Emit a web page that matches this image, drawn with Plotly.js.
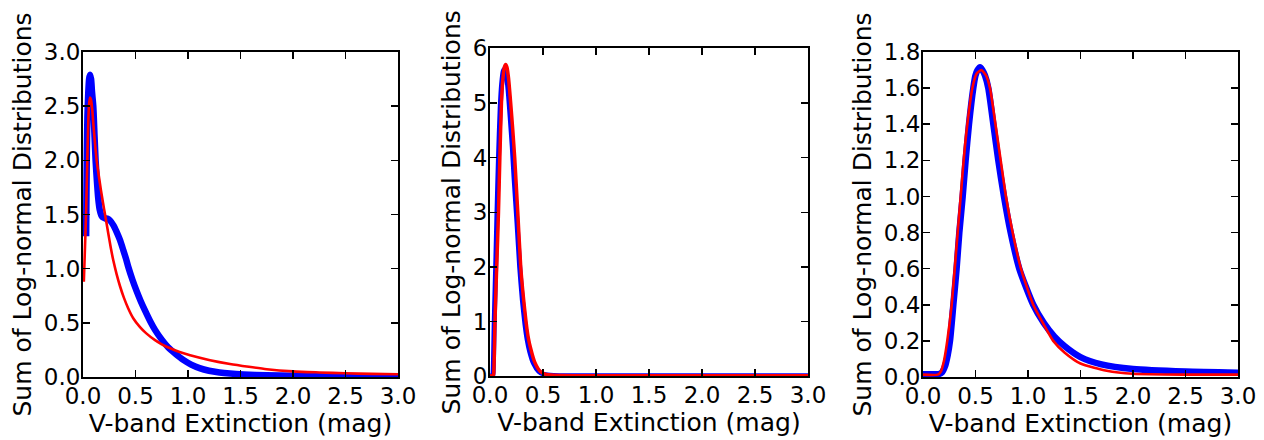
<!DOCTYPE html>
<html>
<head>
<meta charset="utf-8">
<script src="https://cdn.plot.ly/plotly-3.0.1.min.js"></script>
<style>html,body{margin:0;padding:0;background:#fff;}#chart{width:1264px;height:440px;}</style>
</head>
<body>
<div id="chart"></div>
<script>
// ---- Data ----
// Panel 1
var p1BlueX = [0.03,0.033,0.037,0.042,0.05,0.058,0.067,0.077,0.086,0.098,0.11,0.12,0.133,0.146,0.16,0.175,0.187,0.21,0.235,0.257,0.29,0.32,0.352,0.384,0.41,0.43,0.47,0.51,0.55,0.59,0.64,0.686,0.75,0.81,0.88,0.955,1.03,1.11,1.2,1.3,1.4,1.53,1.75,2.0,2.5,3.0];
var p1BlueY = [1.3,1.7,2.1,2.4,2.62,2.75,2.79,2.75,2.63,2.5,2.22,2.0,1.8,1.64,1.54,1.49,1.475,1.465,1.46,1.445,1.4,1.34,1.265,1.17,1.09,1.02,0.9,0.795,0.7,0.615,0.515,0.435,0.345,0.275,0.215,0.158,0.115,0.082,0.058,0.042,0.032,0.024,0.016,0.011,0.007,0.005];
var p1RedX = [0.008,0.019,0.029,0.041,0.05,0.058,0.067,0.076,0.088,0.1,0.115,0.13,0.15,0.17,0.19,0.21,0.24,0.265,0.29,0.32,0.352,0.39,0.43,0.48,0.543,0.6,0.686,0.75,0.83,0.92,1.02,1.21,1.4,1.58,1.75,2.0,2.25,2.5,2.75,3.0];
var p1RedY = [0.88,1.2,1.5,2.0,2.35,2.52,2.58,2.56,2.47,2.32,2.15,2.0,1.86,1.73,1.61,1.5,1.33,1.19,1.07,0.95,0.84,0.73,0.635,0.54,0.46,0.405,0.34,0.302,0.265,0.23,0.2,0.155,0.12,0.094,0.072,0.052,0.042,0.034,0.029,0.025];
// Panel 2
var p2BlueX = [0,0.025,0.03,0.035,0.04,0.048,0.056,0.066,0.08,0.096,0.11,0.125,0.14,0.155,0.17,0.19,0.21,0.228,0.255,0.28,0.305,0.33,0.35,0.375,0.41,0.46,0.51,0.6,0.8,1.5,3.0];
var p2BlueY = [0.01,0.01,0.1,0.5,1.0,1.6,2.2,3.0,4.0,4.9,5.35,5.58,5.62,5.5,5.25,4.75,4.2,3.6,2.8,2.0,1.4,0.95,0.68,0.45,0.24,0.09,0.035,0.015,0.01,0.01,0.01];
var p2RedX = [0,0.03,0.035,0.04,0.047,0.055,0.063,0.072,0.08,0.093,0.108,0.12,0.135,0.148,0.16,0.175,0.195,0.215,0.233,0.262,0.29,0.315,0.34,0.36,0.385,0.42,0.47,0.52,0.6,0.8,1.5,3.0];
var p2RedY = [0.01,0.01,0.05,0.35,1.0,1.5,2.0,2.5,3.0,4.0,5.0,5.4,5.65,5.7,5.65,5.45,5.0,4.5,4.0,3.0,2.0,1.45,1.0,0.72,0.5,0.27,0.1,0.04,0.02,0.012,0.01,0.01];
// Panel 3
var p3BlueX = [0,0.1,0.15,0.18,0.21,0.235,0.257,0.289,0.32,0.346,0.378,0.406,0.438,0.479,0.5,0.52,0.543,0.565,0.59,0.622,0.67,0.717,0.771,0.835,0.917,1.05,1.15,1.25,1.35,1.5,1.7,2.0,2.5,3.0];
var p3BlueY = [0.015,0.015,0.016,0.025,0.06,0.12,0.2,0.4,0.6,0.8,1.0,1.2,1.4,1.6,1.67,1.70,1.715,1.70,1.67,1.6,1.4,1.2,1.0,0.8,0.6,0.4,0.3,0.225,0.17,0.11,0.07,0.044,0.03,0.024];
var p3RedX = [0,0.14,0.17,0.2,0.231,0.273,0.302,0.33,0.359,0.387,0.422,0.47,0.51,0.555,0.6,0.638,0.69,0.74,0.79,0.854,0.933,1.05,1.15,1.24,1.35,1.5,1.75,2.0,2.5,3.0];
var p3RedY = [0.013,0.013,0.03,0.09,0.2,0.4,0.6,0.8,1.0,1.2,1.4,1.6,1.68,1.70,1.67,1.6,1.4,1.2,1.0,0.8,0.6,0.4,0.29,0.2,0.135,0.075,0.035,0.018,0.013,0.013];
// Tick labels
var xTickVals = [0,0.5,1,1.5,2,2.5,3];
var xTickText = ['0.0','0.5','1.0','1.5','2.0','2.5','3.0'];
var y1TickVals = [0,0.5,1,1.5,2,2.5,3];
var y1TickText = ['0.0','0.5','1.0','1.5','2.0','2.5','3.0'];
var y2TickVals = [0,1,2,3,4,5,6];
var y2TickText = ['0','1','2','3','4','5','6'];
var y3TickVals = [0,0.2,0.4,0.6,0.8,1.0,1.2,1.4,1.6,1.8];
var y3TickText = ['0.0','0.2','0.4','0.6','0.8','1.0','1.2','1.4','1.6','1.8'];
var xTitle = 'V-band Extinction (mag)';
var yTitle = 'Sum of Log-normal Distributions';

var BLUE = '#0000ff', RED = '#ff0000';
function tr(x, y, xa, ya, color, w) {
  return {x: x, y: y, xaxis: xa, yaxis: ya, type: 'scatter', mode: 'lines',
    line: {color: color, width: w, shape: 'spline', smoothing: 0.6}, hoverinfo: 'skip', showlegend: false};
}
var data = [
  tr(p1BlueX, p1BlueY, 'x', 'y', BLUE, 6.5),
  tr(p1RedX, p1RedY, 'x', 'y', RED, 2.6),
  tr(p2BlueX, p2BlueY, 'x2', 'y2', BLUE, 5),
  tr(p2RedX, p2RedY, 'x2', 'y2', RED, 3.5),
  tr(p3BlueX, p3BlueY, 'x3', 'y3', BLUE, 6.5),
  tr(p3RedX, p3RedY, 'x3', 'y3', RED, 2.6)
];
var TICKFONT = {family: 'DejaVu Sans', size: 23, color: '#000'};
var TITLEFONT = {family: 'DejaVu Sans', size: 25, color: '#000'};
function axis(dom, anchor, range, tv, tt, title, standoff, lblOff) {
  return {domain: dom, anchor: anchor, range: range, tickmode: 'array', tickvals: tv, ticktext: tt,
    showline: true, mirror: 'ticks', linecolor: '#000', linewidth: 2,
    ticks: 'inside', ticklen: 7, tickwidth: 1.5, tickcolor: '#000',
    showgrid: false, zeroline: false, fixedrange: true, automargin: false,
    ticklabelstandoff: lblOff,
    tickfont: TICKFONT, title: {text: title, font: TITLEFONT, standoff: standoff}};
}
var W = 1264, H = 440;
var layout = {
  width: W, height: H, margin: {l: 0, r: 0, t: 0, b: 0},
  paper_bgcolor: '#fff', plot_bgcolor: '#fff', showlegend: false,
  xaxis:  axis([83/W, 398/W], 'y', [0,3], xTickVals, xTickText, xTitle, 6, -3),
  yaxis:  axis([1-377/H, 1-52/H], 'x', [0,3], y1TickVals, y1TickText, yTitle, 5, -4),
  xaxis2: axis([490/W, 808/W], 'y2', [0,3], xTickVals, xTickText, xTitle, 6, -3),
  yaxis2: axis([1-376.4/H, 1-48.2/H], 'x2', [0,6], y2TickVals, y2TickText, yTitle, 5, -4),
  xaxis3: axis([923/W, 1238/W], 'y3', [0,3], xTickVals, xTickText, xTitle, 6, -3),
  yaxis3: axis([1-377/H, 1-52/H], 'x3', [0,1.8], y3TickVals, y3TickText, yTitle, 5, -4)
};
Plotly.newPlot('chart', data, layout, {staticPlot: true, displayModeBar: false});
</script>
</body>
</html>
